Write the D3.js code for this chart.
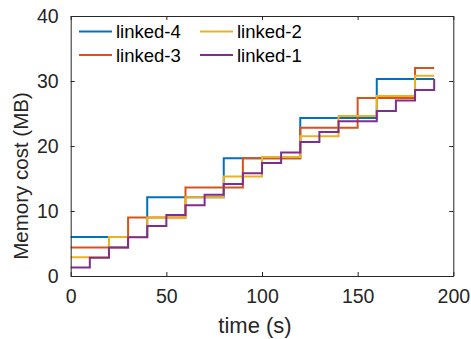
<!DOCTYPE html>
<html>
<head>
<meta charset="utf-8">
<script src="https://cdn.jsdelivr.net/npm/d3@7"></script>
<style>
    body { margin: 0; background: #fff; }
    svg { display: block; font-family: "Liberation Sans", Arial, sans-serif; }
</style>
</head>
<body>
<div data-chart></div>
<script>
// step start times (s) and memory cost (MB) per series, last point closes the stairs
const time4 = [0, 40, 80, 120, 160, 190]
const linked4 = [6.0, 12.1, 18.1, 24.3, 30.3, 30.3]

const time3 = [0, 30, 60, 90, 120, 150, 180, 190]
const linked3 = [4.4, 9.0, 13.6, 18.1, 22.8, 27.4, 32.0, 32.0]

const time2 = [0, 20, 40, 60, 80, 100, 120, 140, 160, 180, 190]
const linked2 = [2.9, 6.0, 9.0, 12.1, 15.3, 18.3, 21.5, 24.6, 27.7, 30.8, 30.8]

const time1 = [0, 10, 20, 30, 40, 50, 60, 70, 80, 90, 100, 110, 120, 130, 140, 150, 160, 170, 180, 190]
const linked1 = [1.3, 2.8, 4.4, 5.95, 7.7, 9.4, 10.9, 12.5, 14.15, 15.8, 17.4, 19.0, 20.6, 22.15, 23.8, 23.8, 25.4, 27.0, 28.6, 30.3]

const seriesNames = ['linked-4', 'linked-3', 'linked-2', 'linked-1']
const colors = ['#0072BD', '#D95319', '#EDB120', '#7E2F8E']
const xTicks = [0, 50, 100, 150, 200]
const yTicks = [0, 10, 20, 30, 40]

const chartW = 471
const chartH = 339
const plotLeft = 70.7, plotRight = 453.3, plotTop = 16, plotBottom = 276

let x = d3.scaleLinear().domain([0, 200]).range([plotLeft, plotRight])
let y = d3.scaleLinear().domain([0, 40]).range([plotBottom, plotTop])

let svg = d3.select('[data-chart]').append('svg')
    .attr('width', chartW)
    .attr('height', chartH)

let series = [
    { name: seriesNames[0], t: time4, v: linked4, color: colors[0] },
    { name: seriesNames[1], t: time3, v: linked3, color: colors[1] },
    { name: seriesNames[2], t: time2, v: linked2, color: colors[2] },
    { name: seriesNames[3], t: time1, v: linked1, color: colors[3] }
]

let line = d3.line()
    .x(function (d) { return x(d[0]) })
    .y(function (d) { return y(d[1]) })
    .curve(d3.curveStepAfter)

svg.append('g')
    .selectAll('path')
    .data(series)
    .enter().append('path')
    .attr('fill', 'none')
    .attr('stroke', function (d) { return d.color })
    .attr('stroke-width', 2)
    .attr('d', function (d) { return line(d.t.map(function (t, i) { return [t, d.v[i]] })) })

// axes, MATLAB style: box on, ticks inside on all four sides
let axisColor = '#262626'
let tickLen = 4

let gx = svg.append('g')
    .attr('transform', 'translate(0,' + plotBottom + ')')
    .call(d3.axisBottom(x).tickValues(xTicks).tickSizeInner(-tickLen).tickSizeOuter(0).tickPadding(13))
let gxTop = svg.append('g')
    .attr('transform', 'translate(0,' + plotTop + ')')
    .call(d3.axisTop(x).tickValues(xTicks).tickSizeInner(-tickLen).tickSizeOuter(0).tickFormat(''))
let gy = svg.append('g')
    .attr('transform', 'translate(' + plotLeft + ',0)')
    .call(d3.axisLeft(y).tickValues(yTicks).tickSizeInner(-tickLen).tickSizeOuter(0).tickPadding(12))
let gyRight = svg.append('g')
    .attr('transform', 'translate(' + plotRight + ',0)')
    .call(d3.axisRight(y).tickValues(yTicks).tickSizeInner(-tickLen).tickSizeOuter(0).tickFormat(''))

;[gx, gxTop, gy, gyRight].forEach(function (g) {
    g.select('.domain').attr('stroke', axisColor)
    g.selectAll('.tick line').attr('stroke', axisColor)
    g.selectAll('.tick text')
        .attr('fill', '#262626')
        .style('font-size', '19.5px')
        .style('font-family', '"Liberation Sans", Arial, sans-serif')
})

svg.append('text')
    .attr('x', 255)
    .attr('y', 333)
    .attr('text-anchor', 'middle')
    .attr('fill', '#262626')
    .style('font-size', '22px')
    .text('time (s)')

svg.append('text')
    .attr('transform', 'translate(28,176)rotate(-90)')
    .attr('text-anchor', 'middle')
    .attr('fill', '#262626')
    .style('font-size', '20.5px')
    .text('Memory cost (MB)')

// legend, two columns filled down
let legendPos = [[79, 31.5], [79, 55], [200, 31.5], [200, 55]]
let legend = svg.append('g')
    .selectAll('g')
    .data(series)
    .enter().append('g')
    .attr('transform', function (d, i) { return 'translate(' + legendPos[i] + ')' })

legend.append('line')
    .attr('x1', 0).attr('x2', 33)
    .attr('stroke', function (d) { return d.color })
    .attr('stroke-width', 2)

legend.append('text')
    .attr('x', 37)
    .attr('y', 6.5)
    .attr('fill', '#000')
    .style('font-size', '18.5px')
    .text(function (d) { return d.name })
</script>
</body>
</html>
